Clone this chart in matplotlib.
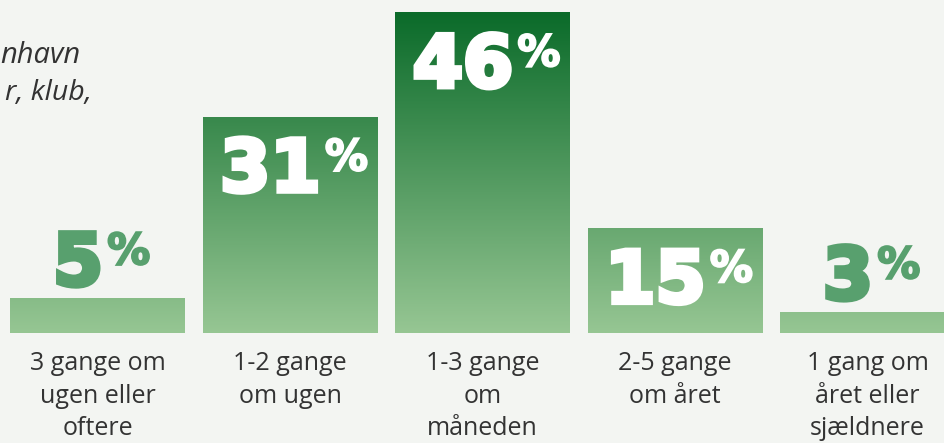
import matplotlib
matplotlib.use('Agg')
import matplotlib.pyplot as plt
import matplotlib.patheffects as pe
import numpy as np
from matplotlib.colors import LinearSegmentedColormap

# data
categories = ['3 gange om\nugen eller\noftere', '1-2 gange\nom ugen', '1-3 gange\nom\nmåneden',
              '2-5 gange\nom året', '1 gang om\nåret eller\nsjældnere']
values = [5, 31, 46, 15, 3]
intro_lines = ['nhavn', 'r, klub,']

BG = '#f3f5f2'
DARK = '#0b6b2a'
LIGHT = '#96c693'
OUT_GREEN = '#58a06e'
TEXT = '#333333'

cmap = LinearSegmentedColormap.from_list('grn', [LIGHT, DARK])

fig = plt.figure(figsize=(9.45, 4.43), dpi=100)
fig.patch.set_facecolor(BG)
ax = fig.add_axes([0, 0, 1, 1])
ax.set_facecolor(BG)
ax.axis('off')

vmax = max(values)
width = 0.909
for i, v in enumerate(values):
    # gradient is shared by all bars: colour depends on height, not on the bar
    grad = np.linspace(v, 0, 200)[:, None]
    ax.imshow(grad, extent=(i - width / 2, i + width / 2, 0, v), cmap=cmap,
              vmin=0, vmax=vmax, aspect='auto', interpolation='bilinear', zorder=1)

ax.set_xlim(-0.5065, 4.4026)
ax.set_ylim(-15.81, 47.87)

renderer = fig.canvas.get_renderer()
num_font = dict(family=['DejaVu Sans'], fontweight='heavy')
for i, v in enumerate(values):
    inside = v >= 10
    color = 'white' if inside else OUT_GREEN
    dy = -74 if inside else 13
    t1 = ax.annotate(str(v), xy=(i, v), xytext=(0, dy), textcoords='offset pixels',
                     fontsize=52, color=color, ha='left', va='baseline', zorder=3, **num_font)
    t2 = ax.annotate('%', xy=(i, v), xytext=(0, dy + 21), textcoords='offset pixels',
                     fontsize=31, color=color, ha='left', va='baseline', zorder=3, **num_font)
    t1.set_path_effects([pe.withStroke(linewidth=3.5, foreground=color, joinstyle='miter')])
    t2.set_path_effects([pe.withStroke(linewidth=1.5, foreground=color, joinstyle='miter')])
    wn = t1.get_window_extent(renderer).width
    wp = t2.get_window_extent(renderer).width
    gap = 4
    left = 4 - (wn + gap + wp) / 2
    t1.set_position((left, dy))
    t2.set_position((left + wn + gap, dy + 21))

for i, lab in enumerate(categories):
    ax.annotate(lab, xy=(i, 0), xytext=(0, -18), textcoords='offset pixels',
                ha='center', va='top', fontsize=18, color=TEXT, linespacing=1.4,
                family=['Open Sans', 'DejaVu Sans'])

fig.text(0.0, 1 - 63 / 443, intro_lines[0], ha='left', va='baseline', fontsize=21,
         style='italic', color=TEXT, family=['Open Sans', 'DejaVu Sans'])
fig.text(5 / 945, 1 - 100 / 443, intro_lines[1], ha='left', va='baseline', fontsize=20.5,
         style='italic', color=TEXT, family=['Open Sans', 'DejaVu Sans'])

fig.savefig('out.png', dpi=100, facecolor=BG)
